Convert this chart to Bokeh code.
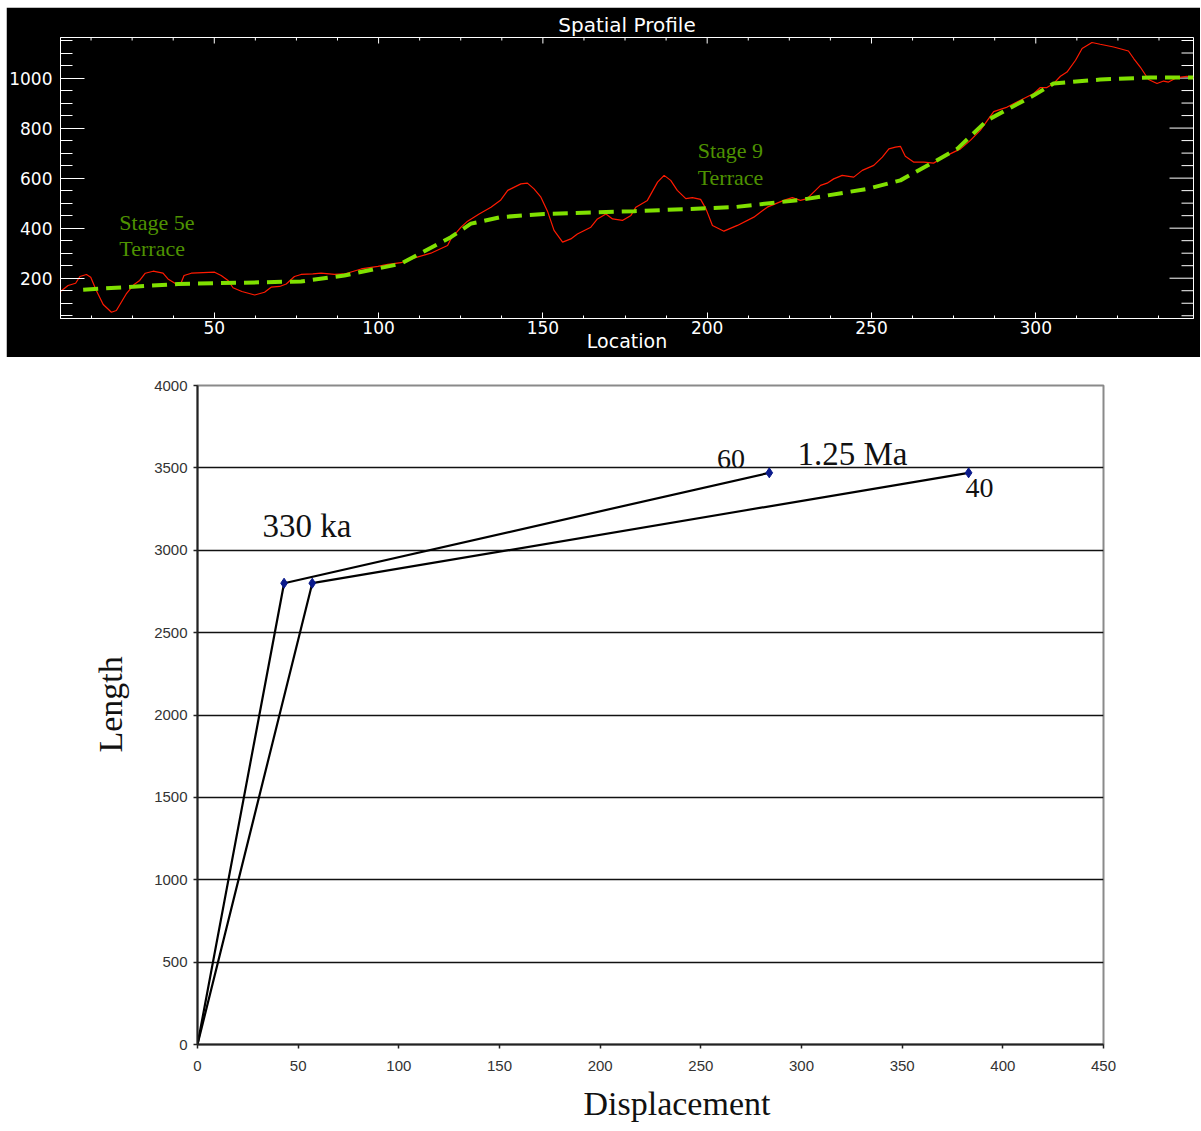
from bokeh.plotting import figure
from bokeh.models import Range1d, SingleIntervalTicker, Label, FixedTicker, Title
from bokeh.embed import file_html
from bokeh.resources import INLINE

# ---------------- data: spatial profile ----------------
profile_loc = [3.2, 5.5, 7.8, 9.1, 11.1, 12.4, 14.1, 16.2, 18.7, 20.2, 21.7, 23.2, 25.6, 27.3, 29.0,
               31.4, 34.4, 35.9, 38.4, 39.7, 40.8, 43.0, 50.1, 52.1, 54.2, 55.7, 58.4, 62.3, 65.3,
               67.3, 69.9, 71.9, 74.4, 76.4, 80.0, 82.5, 86.6, 89.6, 94.7, 99.8, 102.8, 106.8,
               109.9, 115.9, 121.0, 122.0, 125.1, 127.1, 130.6, 134.2, 137.2, 139.3, 143.3, 145.3,
               147.3, 149.4, 151.4, 153.4, 156.0, 158.5, 160.5, 164.6, 166.6, 169.2, 171.2, 174.2,
               176.8, 178.3, 181.8, 184.9, 186.9, 188.9, 190.9, 193.5, 195.5, 198.0, 199.6, 201.6,
               205.1, 209.2, 214.2, 218.3, 223.3, 225.9, 228.4, 230.4, 234.5, 236.5, 238.5, 241.1,
               244.6, 247.2, 250.7, 253.3, 255.3, 257.3, 258.8, 260.3, 262.8, 265.9, 268.9, 273.0,
               277.1, 280.1, 283.1, 287.2, 291.3, 295.3, 299.4, 301.4, 303.4, 305.4, 307.5, 309.5,
               312.1, 314.1, 317.1, 319.6, 323.7, 328.2, 329.8, 331.8, 334.3, 336.9, 338.9, 340.4,
               343.0, 346.0, 348.0]
profile_elev = [147, 171, 180, 207, 215, 204, 151, 95, 64, 71, 104, 137, 175, 191, 220,
                228, 220, 197, 177, 175, 211, 220, 224, 211, 191, 162, 147, 133, 144,
                164, 167, 177, 207, 215, 217, 220, 215, 217, 237, 247, 255, 262,
                277, 300, 331, 357, 404, 428, 457, 484, 513, 551, 577, 580,
                557, 524, 468, 391, 344, 357, 377, 404, 437, 457, 437, 431,
                451, 484, 511, 584, 611, 591, 551, 518, 522, 515, 478, 411,
                388, 411, 444, 484, 511, 522, 511, 518, 571, 580, 597, 611,
                604, 631, 651, 684, 717, 724, 727, 687, 664, 664, 660, 691,
                717, 751, 791, 866, 884, 911, 938, 962, 962, 978, 1007, 1024,
                1071, 1118, 1142, 1135, 1124, 1108, 1078, 1044, 994, 978, 988, 984,
                1002, 1007, 1002]

terrace_loc = [10.1, 39.0, 76.4, 89.6, 106.8, 122.0, 128.1, 137.2, 150.4, 177.8, 208.2, 228.4,
               248.7, 258.8, 268.9, 276.1, 285.2, 299.4, 305.4, 319.6, 334.8, 348.0]
terrace_elev = [154, 177, 187, 211, 258, 364, 418, 444, 457, 468, 484, 513,
                557, 591, 664, 717, 831, 931, 978, 994, 1002, 1002]

# ---------------- data: length vs displacement ----------------
disp_60 = [0, 43, 284]
len_60 = [0, 2800, 3470]
disp_40 = [0, 57, 383]
len_40 = [0, 2800, 3470]

# ================= top panel =================
X0, X1 = 3.2, 348.0
Y0, Y1 = 39.0, 1162.0
p1 = figure(width=1194, height=350, output_backend="svg", toolbar_location=None,
            x_range=Range1d(X0, X1), y_range=Range1d(Y0, Y1),
            background_fill_color="black", border_fill_color="black",
            outline_line_color="white", outline_line_width=1,
            min_border_left=53, min_border_right=7, min_border_top=30, min_border_bottom=39)
p1.margin = (7, 0, 0, 6)
p1.grid.visible = False
p1.title.text = "Spatial Profile"
p1.title.align = "center"
p1.title.text_color = "white"
p1.title.text_font = "DejaVu Sans"
p1.title.text_font_size = "20px"
p1.title.text_font_style = "normal"
p1.title.standoff = 2

p1.xaxis.ticker = SingleIntervalTicker(interval=50, num_minor_ticks=4)
p1.yaxis.ticker = SingleIntervalTicker(interval=200, num_minor_ticks=4)
for ax in list(p1.xaxis) + list(p1.yaxis):
    ax.axis_line_color = "white"
    ax.major_tick_line_color = "white"
    ax.minor_tick_line_color = "white"
    ax.major_tick_out = 0
    ax.minor_tick_out = 0
    ax.major_label_text_color = "white"
    ax.major_label_text_font = "DejaVu Sans"
    ax.major_label_text_font_size = "17px"
    ax.axis_label_text_color = "white"
    ax.axis_label_text_font = "DejaVu Sans"
    ax.axis_label_text_font_size = "19px"
    ax.axis_label_text_font_style = "normal"
p1.xaxis.major_tick_in = 6
p1.xaxis.minor_tick_in = 3
p1.yaxis.major_tick_in = 24
p1.yaxis.minor_tick_in = 12
p1.xaxis.axis_label = "Location"
p1.xaxis.axis_label_standoff = -7
p1.xaxis.major_label_standoff = 2
p1.yaxis.major_label_standoff = 8

# mirrored tick marks on the top and right frame edges (no labels)
px_per_x = 1134.0 / (X1 - X0)
px_per_y = 281.0 / (Y1 - Y0)
top_major = [v for v in range(50, 348, 50)]
top_minor = [v * 12.5 for v in range(1, 28) if (v * 12.5) % 50 != 0]
right_major = [v for v in range(200, 1162, 200)]
right_minor = [v for v in range(50, 1162, 50) if v % 200 != 0]
p1.segment(x0=top_major, y0=[Y1] * len(top_major), x1=top_major,
           y1=[Y1 - 6 / px_per_y] * len(top_major), line_color="white", line_width=1)
p1.segment(x0=top_minor, y0=[Y1] * len(top_minor), x1=top_minor,
           y1=[Y1 - 3 / px_per_y] * len(top_minor), line_color="white", line_width=1)
p1.segment(x0=[X1] * len(right_major), y0=right_major, x1=[X1 - 24 / px_per_x] * len(right_major),
           y1=right_major, line_color="white", line_width=1)
p1.segment(x0=[X1] * len(right_minor), y0=right_minor, x1=[X1 - 12 / px_per_x] * len(right_minor),
           y1=right_minor, line_color="white", line_width=1)

p1.line(profile_loc, profile_elev, line_color="#ff1a00", line_width=1.2)
p1.line(terrace_loc, terrace_elev, line_color="#80e000", line_width=4, line_dash="15 8")

green_txt = "#4e9200"
for txt, x, y in [("Stage 5e", 21.1, 423), ("Terrace", 21.1, 319),
                  ("Stage 9", 197.1, 711), ("Terrace", 197.1, 603)]:
    p1.add_layout(Label(x=x, y=y, text=txt, text_color=green_txt, text_font="Liberation Serif",
                        text_font_size="22px", text_baseline="middle", text_align="left"))

# ================= bottom panel =================
p2 = figure(width=1195, height=773, output_backend="svg", toolbar_location=None,
            x_range=Range1d(0, 450), y_range=Range1d(0, 4000),
            background_fill_color="white", border_fill_color="white",
            outline_line_color="#8a8a8a", outline_line_width=2,
            min_border_left=197, min_border_right=92, min_border_top=28, min_border_bottom=86)
p2.xaxis.ticker = FixedTicker(ticks=list(range(0, 451, 50)))
p2.yaxis.ticker = FixedTicker(ticks=list(range(0, 4001, 500)))
p2.xgrid.visible = False
p2.ygrid.grid_line_color = "#111111"
p2.ygrid.grid_line_width = 1.6
for ax in (p2.xaxis[0], p2.yaxis[0]):
    ax.axis_line_color = "#222222"
    ax.axis_line_width = 2
    ax.major_tick_line_color = "#222222"
    ax.major_tick_line_width = 1.5
    ax.major_tick_out = 4
    ax.major_tick_in = 0
    ax.minor_tick_line_color = None
    ax.major_label_text_font = "Liberation Sans"
    ax.major_label_text_font_size = "15px"
    ax.major_label_text_color = "#333333"
p2.xaxis.major_label_standoff = 12
p2.yaxis.major_label_standoff = 6

# axis titles, placed off-centre as in the original
p2.add_layout(Title(text="Displacement", align="left", offset=386, standoff=18,
                    text_font="Liberation Serif", text_font_size="34px",
                    text_font_style="normal", text_color="#111111"), "below")
p2.add_layout(Title(text="Length", align="left", offset=292, standoff=46,
                    text_font="Liberation Serif", text_font_size="34px",
                    text_font_style="normal", text_color="#111111"), "left")

p2.line(disp_60, len_60, line_color="black", line_width=2.2)
p2.line(disp_40, len_40, line_color="black", line_width=2.2)
p2.scatter(disp_60[1:], len_60[1:], marker="diamond", size=10, fill_color="#0a1a8c", line_color="#0a1a8c")
p2.scatter(disp_40[1:], len_40[1:], marker="diamond", size=10, fill_color="#0a1a8c", line_color="#0a1a8c")

for txt, x, y, fs in [("330 ka", 32.3, 3149, "33px"), ("1.25 Ma", 298, 3586, "33px"),
                      ("60", 258, 3556, "28px"), ("40", 381.5, 3380, "28px")]:
    p2.add_layout(Label(x=x, y=y, text=txt, text_color="#111111", text_font="Liberation Serif",
                        text_font_size=fs, text_baseline="middle", text_align="left"))

open("out.html", "w").write(file_html([p1, p2], INLINE))
